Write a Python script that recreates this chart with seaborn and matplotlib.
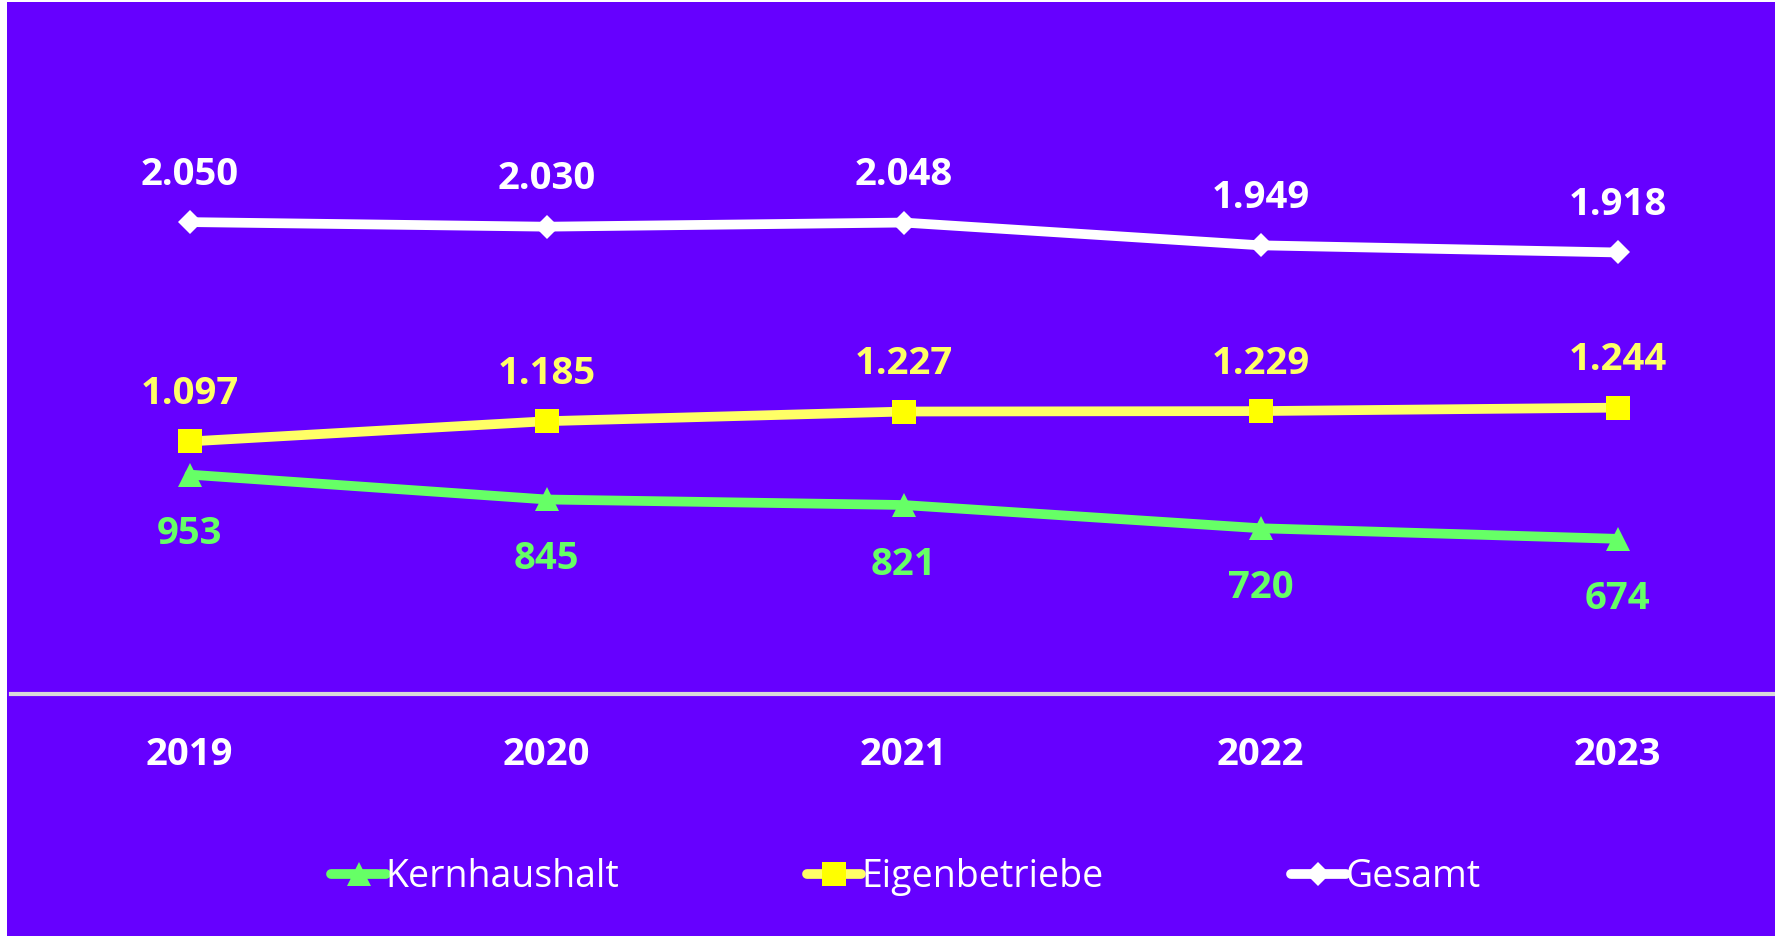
import matplotlib.pyplot as plt
import matplotlib.patches as mpatches
import pandas as pd
import seaborn as sns

# values
years = ['2019', '2020', '2021', '2022', '2023']
kernhaushalt = [953, 845, 821, 720, 674]
eigenbetriebe = [1097, 1185, 1227, 1229, 1244]
gesamt = [2050, 2030, 2048, 1949, 1918]

BG = '#6600FF'

sns.set_style('white')
plt.rcParams['font.family'] = ['Open Sans', 'DejaVu Sans']

fig = plt.figure(figsize=(17.75, 9.36), dpi=100)
fig.patch.set_facecolor('white')
# purple panel, thin white margin on left/top like the original
fig.patches.append(mpatches.Rectangle((7 / 1775, 0), 1, 1 - 2 / 936, transform=fig.transFigure,
                                      facecolor=BG, edgecolor='none', zorder=-10))

ax = fig.add_axes([11 / 1775, 1 - 694 / 936, 1785 / 1775, 690.6 / 936])
ax.set_facecolor('none')

series = [
    ('Kernhaushalt', kernhaushalt, '#66FF66', '#66FF66', '^', 17, 'below'),
    ('Eigenbetriebe', eigenbetriebe, '#FFFF66', '#FFFF00', 's', 17, 'above'),
    ('Gesamt', gesamt, '#FFFFFF', '#FFFFFF', 'D', 12, 'above'),
]

for name, vals, lc, mc, mk, ms, pos in series:
    df = pd.DataFrame({'year': years, 'value': vals})
    sns.lineplot(data=df, x='year', y='value', ax=ax, color=lc, linewidth=7,
                 marker=mk, markersize=ms, markerfacecolor=mc, markeredgecolor=mc,
                 markeredgewidth=0, label=name, solid_capstyle='round')
    for x, v in zip(years, vals):
        txt = f'{v:,}'.replace(',', '.')
        dy = -43 if pos == 'below' else 34
        ax.annotate(txt, (x, v), xytext=(0, dy), textcoords='offset points',
                    ha='center', va='center', fontsize=27.5, fontweight='bold', color=lc)

ax.set_xlim(-0.5, 4.5)
ax.set_ylim(0, 3000)
ax.set_xlabel('')
ax.set_ylabel('')
ax.set_yticks([])
ax.tick_params(axis='x', length=0, pad=30, labelsize=27.5, labelcolor='white')
for lab in ax.get_xticklabels():
    lab.set_fontweight('bold')
for s in ['top', 'left', 'right']:
    ax.spines[s].set_visible(False)
ax.spines['bottom'].set_color('#D9D9D9')
ax.spines['bottom'].set_linewidth(3)

leg = ax.legend(loc='center', bbox_to_anchor=(906 / 1775, 1 - 877 / 936),
                bbox_transform=fig.transFigure, ncol=3, frameon=False,
                fontsize=27, columnspacing=5.0, handlelength=1.45, handletextpad=0.0)
for t in leg.get_texts():
    t.set_color('white')

fig.savefig('out.png', dpi=100, facecolor=fig.get_facecolor())
